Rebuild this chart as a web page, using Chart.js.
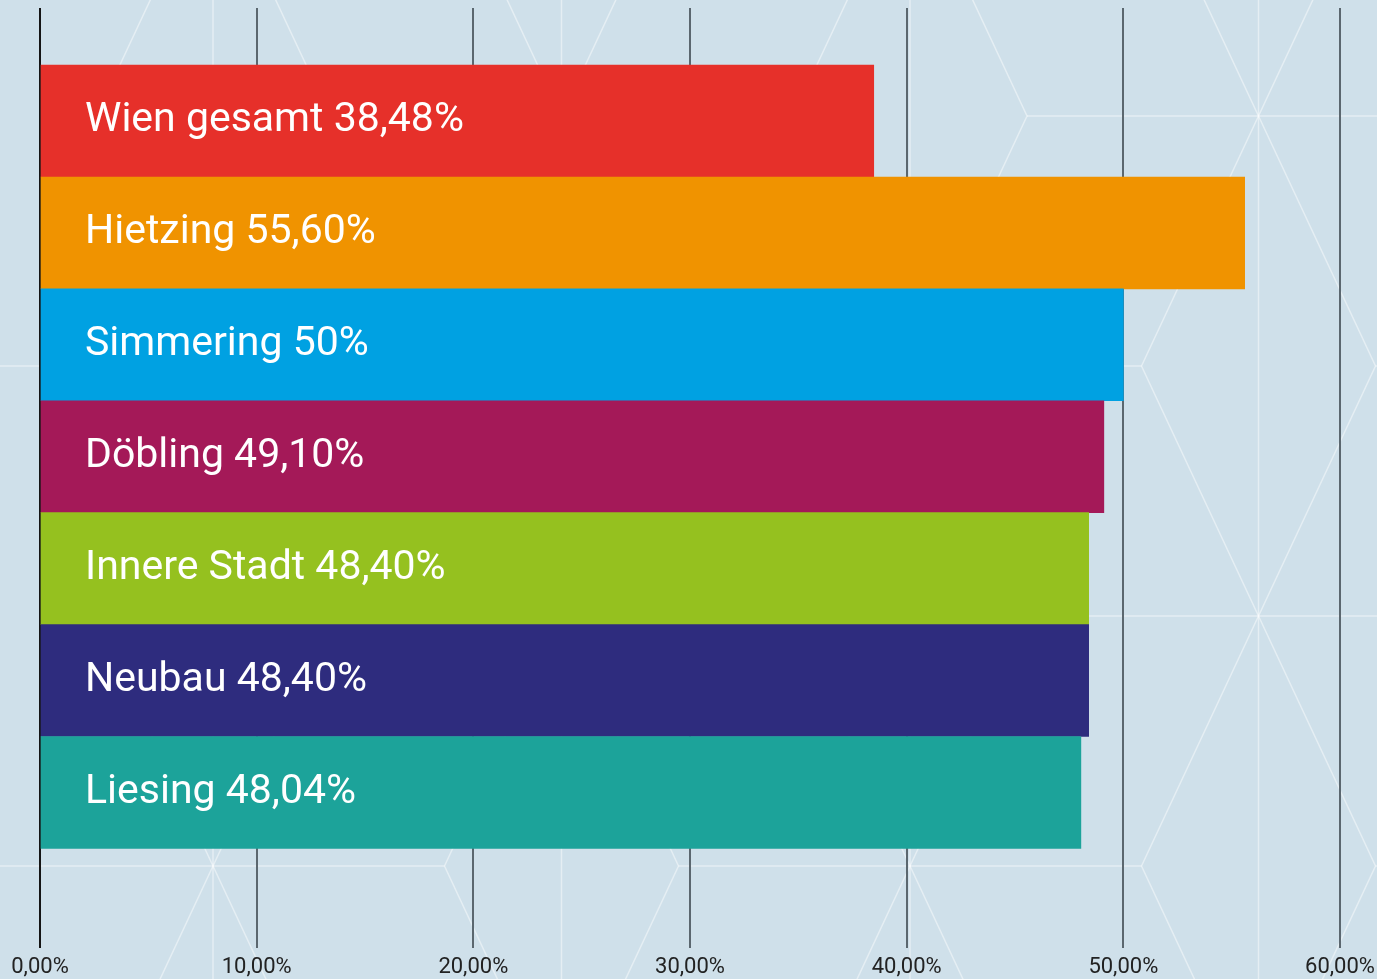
<!DOCTYPE html>
<html>
<head>
<meta charset="utf-8">
<script src="https://cdn.jsdelivr.net/npm/chart.js@4"></script>
<style>
  html, body { margin: 0; padding: 0; background: #cfe0ea; }
  #wrap { width: 1377px; height: 979px; }
</style>
</head>
<body>
<div id="wrap"><canvas id="chart"></canvas></div>
<script>
const categories  = ['Wien gesamt', 'Hietzing', 'Simmering', 'Döbling', 'Innere Stadt', 'Neubau', 'Liesing'];
const values      = [38.48, 55.60, 50, 49.10, 48.40, 48.40, 48.04];
const valueLabels = ['38,48%', '55,60%', '50%', '49,10%', '48,40%', '48,40%', '48,04%'];
const barColors   = ['#e6302a', '#f09300', '#00a1e2', '#a41958', '#95c11f', '#2e2c7e', '#1ca39a'];
const xTicks      = [0, 10, 20, 30, 40, 50, 60];

// faint rhombus pattern behind the chart (decoration only)
const backdrop = {
    id: 'backdrop',
    beforeDraw(chart) {
        const { ctx, width, height } = chart;
        ctx.save();
        ctx.fillStyle = '#cfe0ea';
        ctx.fillRect(0, 0, width, height);
        ctx.strokeStyle = 'rgba(255,255,255,0.45)';
        ctx.lineWidth = 1.5;
        const hw = 117, hh = 250, colStep = 348.5;
        for (let j = -1; j <= 4; j++) {
            const cx = 213 + colStep * j;
            const y0 = (j % 2 === 0) ? 116 : 366;
            ctx.beginPath(); ctx.moveTo(cx, 0); ctx.lineTo(cx, height); ctx.stroke();
            for (let cy = y0 - 500; cy <= height + 500; cy += 500) {
                ctx.beginPath();
                ctx.moveTo(cx - hw, cy);
                ctx.lineTo(cx, cy - hh);
                ctx.lineTo(cx + hw, cy);
                ctx.lineTo(cx, cy + hh);
                ctx.closePath();
                ctx.stroke();
                ctx.beginPath();
                ctx.moveTo(cx + hw, cy);
                ctx.lineTo(cx + 2 * colStep - hw, cy);
                ctx.stroke();
            }
        }
        ctx.restore();
    }
};

const barText = {
    id: 'barText',
    afterDatasetsDraw(chart) {
        const { ctx } = chart;
        const meta = chart.getDatasetMeta(0);
        ctx.save();
        ctx.fillStyle = '#ffffff';
        ctx.font = '41px Roboto';
        ctx.textBaseline = 'middle';
        ctx.textAlign = 'left';
        meta.data.forEach((bar, i) => {
            ctx.fillText(categories[i] + ' ' + valueLabels[i], bar.base + 44, bar.y);
        });
        ctx.restore();
    }
};

new Chart(document.getElementById('chart'), {
    type: 'bar',
    data: {
        datasets: [{
            data: values.map((v, i) => ({ x: v, y: i })),
            backgroundColor: barColors,
            borderWidth: 0,
            categoryPercentage: 1,
            barPercentage: 1,
        }],
    },
    options: {
        indexAxis: 'y',
        responsive: true,
        maintainAspectRatio: false,
        animation: false,
        layout: { padding: { top: 8, left: 0, right: 0, bottom: 0 } },
        scales: {
            x: {
                type: 'linear',
                min: 0,
                max: 60,
                afterBuildTicks: s => { s.ticks = xTicks.map(v => ({ value: v })); },
                afterFit: s => {
                    s.height = 31;
                    s.paddingLeft = 40;
                    s.paddingRight = 37;
                },
                ticks: {
                    padding: 6,
                    color: '#222',
                    font: { family: 'Roboto', size: 22, lineHeight: 1.2 },
                    callback: v => v.toFixed(2).replace('.', ',') + '%',
                },
                grid: {
                    drawTicks: false,
                    lineWidth: 2,
                    color: c => c.index === 0 ? '#151515' : '#5b676f',
                },
                border: { display: false },
            },
            y: {
                type: 'linear',
                reverse: true,
                offset: false,
                min: -1.01,
                max: 7.39,
                display: false,
                afterBuildTicks: s => { s.ticks = categories.map((c, i) => ({ value: i })); },
            },
        },
        plugins: {
            legend: { display: false },
            tooltip: { enabled: false },
        },
    },
    plugins: [backdrop, barText],
});
</script>
</body>
</html>
